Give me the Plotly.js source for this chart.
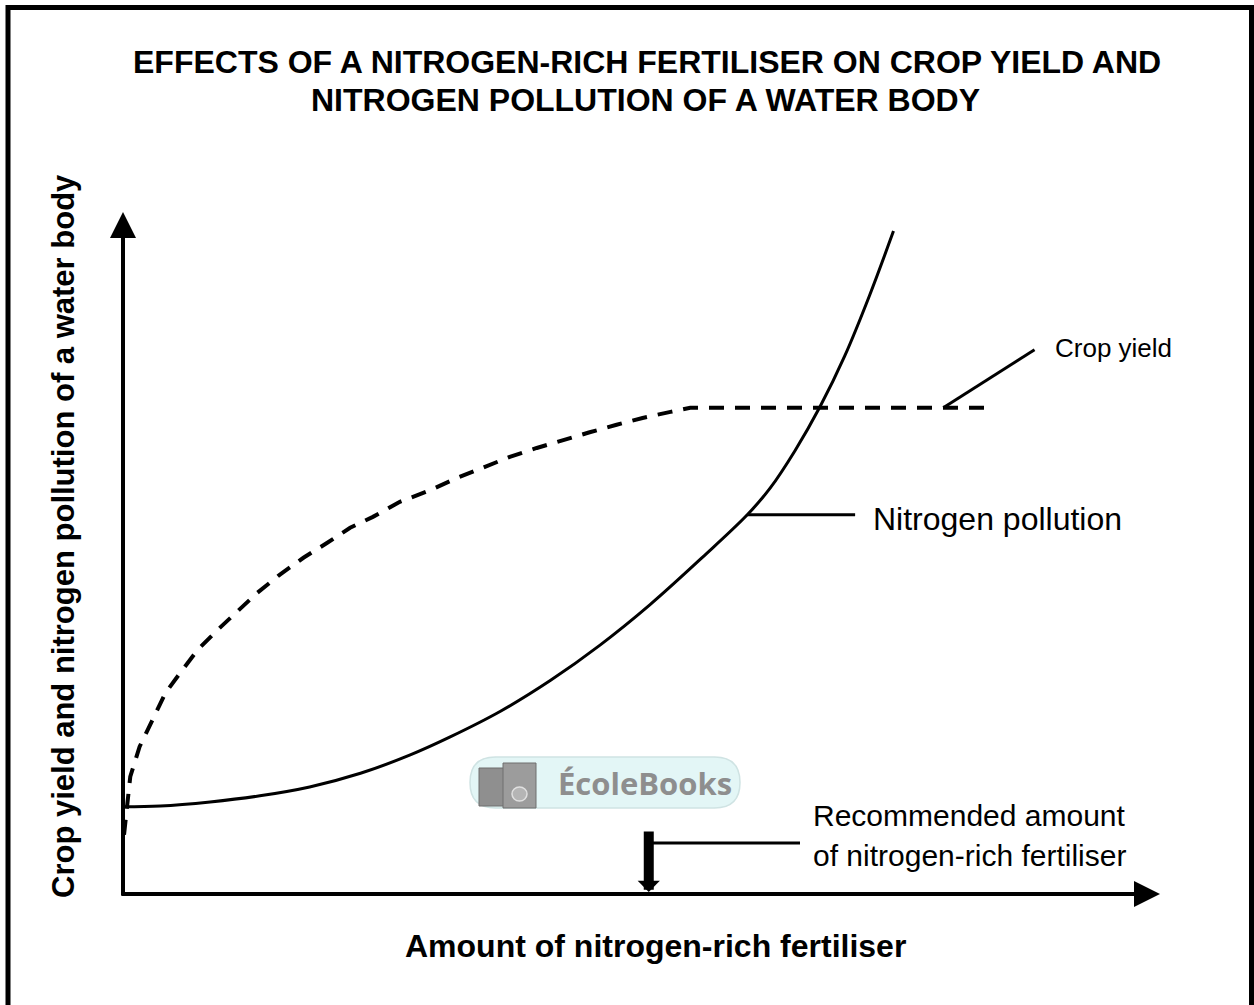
<!DOCTYPE html>
<html>
<head>
<meta charset="utf-8">
<script src="https://cdn.plot.ly/plotly-3.0.1.min.js"></script>
<style>html,body{margin:0;padding:0;background:#fff;}#chart{width:1254px;height:1005px;}</style>
</head>
<body>
<div id="chart"></div>
<script>
// ---- Data (arbitrary 0-100 units, schematic chart) ----
const pollutionX = [0, 3.6, 8.4, 13.2, 18.0, 22.9, 27.7, 31.5, 36.4, 41.2, 46.0, 50.8, 55.9, 60.2, 62.4, 64.8, 67.2, 69.6, 72.0, 74.3];
const pollutionY = [12.8, 12.9, 13.5, 14.4, 15.7, 17.7, 20.4, 23.0, 26.8, 31.3, 36.5, 42.4, 49.4, 55.6, 59.5, 65.0, 71.4, 78.9, 87.8, 97.2];

const yieldX = [0.1, 0.7, 1.6, 2.8, 4.1, 5.7, 7.2, 9.1, 11.0, 12.9, 15.1, 17.4, 19.7, 21.9, 24.1, 26.7, 29.6, 32.2, 34.7, 37.3, 39.9, 42.4, 45.0, 47.6, 50.1, 52.8, 54.7, 83.1];
const yieldY = [8.7, 17.2, 21.6, 25.5, 29.5, 32.8, 35.8, 38.7, 41.4, 44.1, 46.8, 49.3, 51.5, 53.7, 55.3, 57.5, 59.2, 61.0, 62.5, 64.1, 65.4, 66.6, 67.7, 68.8, 69.8, 70.7, 71.3, 71.3];

const recommendedX = [50.7];

const titleLines = ["EFFECTS OF A NITROGEN-RICH FERTILISER ON CROP YIELD AND", "NITROGEN POLLUTION OF A WATER BODY"];
const xTitle = "Amount of nitrogen-rich fertiliser";
const yTitle = "Crop yield and nitrogen pollution of a water body";
const seriesNames = ["Crop yield", "Nitrogen pollution"];
const recommendedLabel = ["Recommended amount", "of nitrogen-rich fertiliser"];

// ---- Layout helpers (pixel -> paper) ----
const L = 123, R = 1160, T = 212, B = 894;
const W = R - L, H = B - T;
const PX = x => (x - L) / W;
const PY = y => (B - y) / H;
const P = (x, y) => PX(x) + ',' + PY(y);

const FONT = 'Liberation Sans, Arial, sans-serif';

const traces = [
  { x: yieldX, y: yieldY, mode: 'lines', name: seriesNames[0],
    line: { color: '#000', width: 4, dash: '15px,11px' }, hoverinfo: 'skip' },
  { x: pollutionX, y: pollutionY, mode: 'lines', name: seriesNames[1],
    line: { color: '#000', width: 3, shape: 'spline', smoothing: 1 }, hoverinfo: 'skip' }
];

const yieldPlateau = yieldY[yieldY.length - 1];
const pollLeaderIdx = 13;

const pill = 'M' + P(495.5, 757) + ' L' + P(714.5, 757) + ' Q' + P(740, 757) + ' ' + P(740, 782.5) +
  ' Q' + P(740, 808) + ' ' + P(714.5, 808) + ' L' + P(495.5, 808) + ' Q' + P(470, 808) + ' ' + P(470, 782.5) +
  ' Q' + P(470, 757) + ' ' + P(495.5, 757) + ' Z';

const shapes = [
  { type: 'rect', xref: 'paper', yref: 'paper', x0: PX(8), x1: PX(1251.5), y0: PY(7.5), y1: PY(1012),
    line: { color: '#000', width: 5 }, fillcolor: 'rgba(0,0,0,0)' },
  { type: 'path', xref: 'paper', yref: 'paper', path: pill, fillcolor: '#e3f6f6', line: { color: '#cfe3e3', width: 1.5 }, layer: 'below' },
  { type: 'rect', xref: 'paper', yref: 'paper', x0: PX(479), x1: PX(506), y0: PY(806), y1: PY(768), fillcolor: '#8f8f8f', line: { color: '#6f6f6f', width: 1 }, layer: 'below' },
  { type: 'rect', xref: 'paper', yref: 'paper', x0: PX(503), x1: PX(536), y0: PY(808), y1: PY(763), fillcolor: '#9c9c9c', line: { color: '#6f6f6f', width: 1 }, layer: 'below' },
  { type: 'circle', xref: 'paper', yref: 'paper', x0: PX(512), x1: PX(527), y0: PY(801), y1: PY(787), fillcolor: '#b5b5b5', line: { color: '#e0e0e0', width: 1.5 }, layer: 'below' },
  { type: 'line', xref: 'x', yref: 'y', x0: 79.1, y0: yieldPlateau, x1: 87.9, y1: 79.8, line: { color: '#000', width: 3 } },
  { type: 'line', xref: 'x', yref: 'y', x0: pollutionX[pollLeaderIdx], y0: pollutionY[pollLeaderIdx], x1: 70.6, y1: pollutionY[pollLeaderIdx], line: { color: '#000', width: 3 } },
  { type: 'line', xref: 'paper', yref: 'paper', x0: PX(653), y0: PY(843), x1: PX(800), y1: PY(843), line: { color: '#000', width: 3 } }
];

const bold = (s) => ({ family: FONT, size: s, color: '#000', weight: 'bold' });
const reg = (s) => ({ family: FONT, size: s, color: '#000' });

const annotations = [
  { x: 0, y: 100, ax: 0, ay: -0.4, xref: 'x', yref: 'y', axref: 'x', ayref: 'y', text: '', showarrow: true,
    arrowhead: 2, arrowwidth: 4, arrowsize: 1.3, arrowcolor: '#000', standoff: 0 },
  { x: 100, y: 0, ax: -0.3, ay: 0, xref: 'x', yref: 'y', axref: 'x', ayref: 'y', text: '', showarrow: true,
    arrowhead: 2, arrowwidth: 4, arrowsize: 1.3, arrowcolor: '#000', standoff: 0 },
  { x: recommendedX[0], y: 0.3, ax: recommendedX[0], ay: 9.4, xref: 'x', yref: 'y', axref: 'x', ayref: 'y', text: '', showarrow: true,
    arrowhead: 1, arrowwidth: 10, arrowsize: 0.37, arrowcolor: '#000', standoff: 0 },
  { xref: 'paper', yref: 'paper', x: PX(647), y: PY(62), text: '<b>' + titleLines[0] + '</b>', showarrow: false, font: bold(32), xanchor: 'center', yanchor: 'middle' },
  { xref: 'paper', yref: 'paper', x: PX(645), y: PY(100), text: '<b>' + titleLines[1] + '</b>', showarrow: false, font: bold(32), xanchor: 'center', yanchor: 'middle' },
  { xref: 'paper', yref: 'paper', x: PX(63), y: PY(536), text: '<b>' + yTitle + '</b>', textangle: -90, showarrow: false, font: bold(31), xanchor: 'center', yanchor: 'middle' },
  { xref: 'paper', yref: 'paper', x: PX(655), y: PY(946), text: '<b>' + xTitle + '</b>', showarrow: false, font: bold(32), xanchor: 'center', yanchor: 'middle' },
  { xref: 'paper', yref: 'paper', x: PX(1053), y: PY(348), text: seriesNames[0], showarrow: false, font: reg(26), xanchor: 'left', yanchor: 'middle' },
  { xref: 'paper', yref: 'paper', x: PX(871), y: PY(519), text: seriesNames[1], showarrow: false, font: reg(32), xanchor: 'left', yanchor: 'middle' },
  { xref: 'paper', yref: 'paper', x: PX(811), y: PY(815), text: recommendedLabel[0], showarrow: false, font: reg(30), xanchor: 'left', yanchor: 'middle' },
  { xref: 'paper', yref: 'paper', x: PX(811), y: PY(855), text: recommendedLabel[1], showarrow: false, font: reg(30), xanchor: 'left', yanchor: 'middle' },
  { xref: 'paper', yref: 'paper', x: PX(556), y: PY(783), text: '<b>ÉcoleBooks</b>', showarrow: false, font: { family: 'Open Sans, Liberation Sans, sans-serif', size: 31, color: '#8e8e8e' }, xanchor: 'left', yanchor: 'middle' }
];

const layout = {
  width: 1254, height: 1005,
  margin: { l: L, r: 1254 - R, t: T, b: 1005 - B, pad: 0 },
  paper_bgcolor: '#fff', plot_bgcolor: 'rgba(0,0,0,0)',
  showlegend: false,
  xaxis: { range: [0, 100], visible: false, fixedrange: true },
  yaxis: { range: [0, 100], visible: false, fixedrange: true },
  shapes: shapes,
  annotations: annotations,
  font: { family: FONT }
};

Plotly.newPlot('chart', traces, layout, { staticPlot: true, displayModeBar: false });
</script>
</body>
</html>
